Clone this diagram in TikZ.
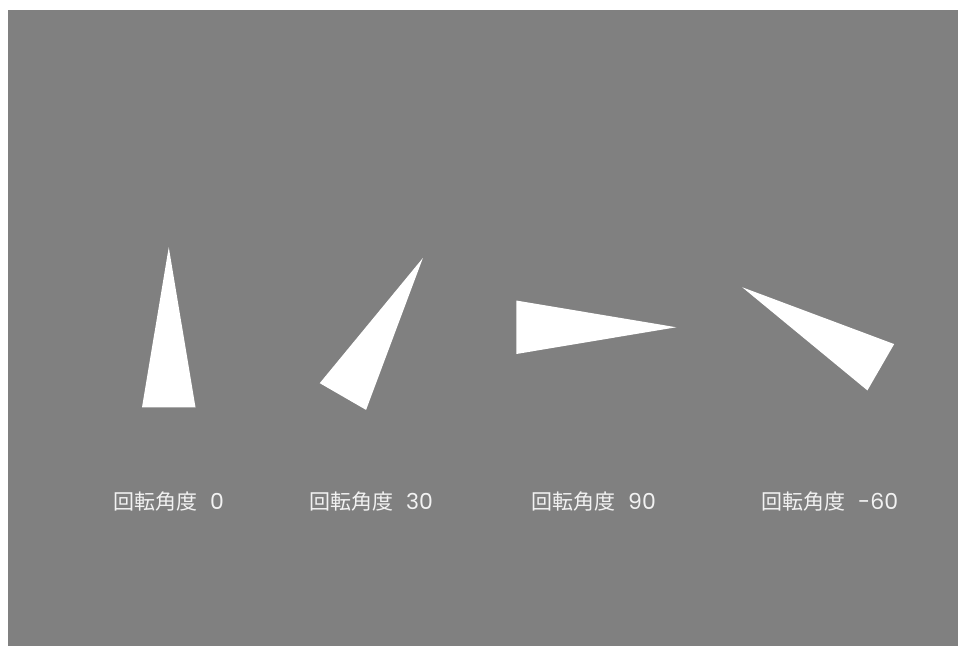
\documentclass[tikz,border=0pt]{standalone}
\usepackage{fontspec}
\newfontfamily\jpfont{Noto Sans CJK JP}
\newfontfamily\digitfont{Poppins}
\definecolor{bggray}{HTML}{808080}
\definecolor{lblcol}{HTML}{F2F2F2}
\newcommand{\dg}[1]{\hspace{12.5pt}{\digitfont\fontsize{22}{26}\selectfont #1}}
\begin{document}
\begin{tikzpicture}[x=1pt,y=-1pt,
  tri/.style={fill=white},
  lbl/.style={text=lblcol, font=\jpfont\fontsize{21}{24}\selectfont, anchor=base west, inner sep=0pt}]
\useasboundingbox (0,0) rectangle (958,646);
\fill[bggray] (8,10) rectangle (958,646);
% triangles, each rotated about its own centre
\foreach \cx/\ang in {168.75/0, 382.9/-30, 596.25/-90, 811.5/60}{
  \begin{scope}[shift={(\cx,327.25)}, rotate=\ang]
    \fill[tri] (0,-80) -- (-26.75,80) -- (26.75,80) -- cycle;
  \end{scope}
}
\node[lbl] (l0) at (113.5,509.5) {回転角度\dg{0}};
\node[lbl] (l30) at (309.5,509.5) {回転角度\dg{30}};
\node[lbl] (l90) at (531.5,509.5) {回転角度\dg{90}};
\node[lbl] (l60) at (761.5,509.5) {回転角度\dg{-60}};
\end{tikzpicture}
\end{document}
